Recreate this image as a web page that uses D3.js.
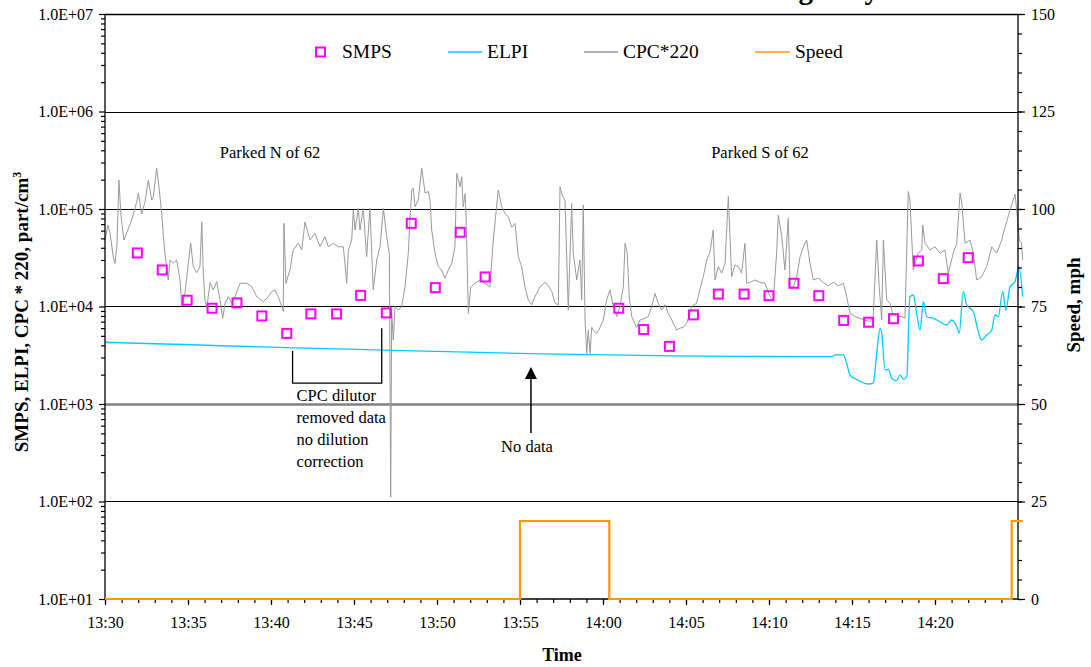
<!DOCTYPE html>
<html>
<head>
<meta charset="utf-8">
<script src="https://cdn.jsdelivr.net/npm/d3@7"></script>
<style>
  body { margin: 0; background: #fff; }
  svg text { font-family: "Liberation Serif", "Times New Roman", serif; fill: #000; }
</style>
</head>
<body>
<div id="chart"></div>
<script>
// time is kept as minutes after 13:30

// SMPS, part/cm3
var smpsMin = [1.95, 3.45, 4.95, 6.45, 7.95, 9.45, 10.95, 12.4, 13.95, 15.4, 16.95, 18.45, 19.9, 21.4, 22.9,
  30.95, 32.45, 34.0, 35.45, 36.95, 38.5, 40.0, 41.5, 43.0, 44.5, 46.0, 47.5, 49.0, 50.5, 52.0];
var smpsVal = [35400, 23700, 11600, 9600, 10900, 8000, 5300, 8400, 8400, 13000, 8600, 71300, 15600, 57700, 20100,
  9600, 5800, 3900, 8200, 13400, 13400, 12900, 17300, 12900, 7200, 6900, 7500, 29300, 19300, 31700];

// ELPI, part/cm3
var elpiMin = [0, 43.78, 43.98, 44.48, 44.68, 44.88, 45.28, 45.78, 46.08, 46.28, 46.49, 46.69, 46.79, 46.99, 47.19,
  47.39, 47.69, 47.89, 48.13, 48.30, 48.49, 48.69, 48.90, 49.10, 49.30, 49.50, 49.90, 50.30, 50.70, 51.0,
  51.31, 51.46, 51.70, 51.91, 52.31, 52.61, 52.81, 53.11, 53.42, 53.61, 53.81, 54.08, 54.27, 54.52, 54.82,
  55.06, 55.28];
var elpiVal = [4300, 3055, 3185, 3185, 2614, 1982, 1791, 1630, 1603, 1653, 3311, 5973, 5306, 2234, 2270,
  1836, 1734, 1982, 1791, 1905, 12590, 13120, 8510, 5740, 11190, 7850, 7560, 6980, 6460, 7270,
  6210, 5310, 14190, 10350, 8850, 5520, 4530, 5100, 5740, 8180, 7860, 14190, 9200, 15960, 17960,
  25570, 12590];

// CPC * 220, part/cm3
var cpcMin = [0, 0.18, 0.30, 0.50, 0.60, 0.72, 0.84, 0.96, 1.14, 1.31, 1.61, 1.91, 2.01, 2.21, 2.41,
  2.61, 2.81, 2.91, 3.11, 3.27, 3.42, 3.51, 3.61, 3.81, 3.92, 4.11, 4.32, 4.52, 4.62, 4.82,
  5.02, 5.16, 5.32, 5.52, 5.72, 5.83, 5.92, 6.02, 6.13, 6.33, 6.52, 6.73, 6.93, 7.09, 7.23,
  7.43, 7.63, 7.83, 8.13, 8.54, 8.84, 9.14, 9.54, 9.84, 10.04, 10.24, 10.44, 10.64, 10.74, 10.78,
  10.90, 11.14, 11.34, 11.64, 11.85, 12.05, 12.35, 12.65, 12.95, 13.25, 13.45, 13.75, 14.05, 14.36, 14.56,
  14.66, 14.86, 14.96, 15.06, 15.26, 15.36, 15.56, 15.76, 15.96, 16.16, 16.37, 16.57, 16.77, 16.97, 17.13,
  17.21, 17.27, 17.37, 17.47, 17.67, 17.87, 18.07, 18.27, 18.37, 18.48, 18.57, 18.67, 18.87, 19.08, 19.28,
  19.48, 19.58, 19.68, 19.88, 20.08, 20.28, 20.48, 20.68, 20.89, 21.08, 21.19, 21.39, 21.49, 21.58, 21.69,
  21.75, 21.89, 22.03, 22.29, 22.59, 22.89, 23.19, 23.39, 23.69, 23.90, 24.10, 24.30, 24.50, 24.70, 24.90,
  25.10, 25.30, 25.50, 25.70, 25.90, 26.20, 26.51, 26.70, 26.91, 27.11, 27.31, 27.41, 27.57, 27.71, 27.91,
  28.11, 28.21, 28.42, 28.61, 28.72, 28.81, 28.92, 29.02, 29.11, 29.22, 29.32, 29.42, 29.62, 29.82, 30.02,
  30.22, 30.42, 30.62, 30.83, 31.02, 31.22, 31.33, 31.46, 31.58, 31.73, 31.83, 32.03, 32.23, 32.53, 32.73,
  32.93, 33.13, 33.33, 33.54, 33.73, 33.93, 34.14, 34.44, 34.64, 34.84, 35.04, 35.34, 35.64, 35.84, 36.04,
  36.25, 36.45, 36.64, 36.75, 36.95, 37.15, 37.35, 37.55, 37.75, 37.95, 38.15, 38.35, 38.55, 38.66, 38.86,
  39.16, 39.46, 39.76, 40.06, 40.26, 40.46, 40.56, 40.77, 40.96, 41.16, 41.27, 41.46, 41.67, 41.87, 42.07,
  42.27, 42.47, 42.67, 42.97, 43.27, 43.57, 43.87, 44.17, 44.48, 44.68, 44.88, 45.18, 45.48, 45.78, 46.08,
  46.28, 46.49, 46.64, 46.79, 46.89, 47.09, 47.29, 47.45, 47.69, 47.99, 48.19, 48.39, 48.49, 48.69, 48.99,
  49.20, 49.26, 49.40, 49.70, 50.0, 50.30, 50.60, 50.80, 51.10, 51.31, 51.51, 51.61, 51.81, 52.11, 52.31,
  52.51, 52.81, 53.11, 53.42, 53.72, 54.02, 54.22, 54.52, 54.82, 54.92, 55.08, 55.22, 55.28];
var cpcVal = [48000, 68500, 57000, 32000, 27700, 42700, 198000, 86700, 48100, 57000, 77100, 118600, 146000, 89000, 118600,
  198000, 123700, 133000, 262000, 156600, 89000, 54000, 35000, 18700, 30000, 27900, 30000, 18700, 10000, 13800,
  27900, 44800, 25600, 22200, 25600, 74100, 22200, 11700, 9700, 17600, 14800, 18000, 11700, 7560, 10800,
  12600, 10800, 12600, 17300, 17300, 16000, 12600, 11200, 12600, 14200, 14800, 12600, 10000, 8900, 71300,
  17300, 23700, 38000, 44500, 38000, 73500, 48100, 56400, 41000, 52000, 41000, 44500, 41000, 41000, 17300,
  38000, 48100, 97600, 60900, 101700, 60900, 101700, 32300, 102400, 14800, 30000, 41000, 101700, 52000, 35000,
  111, 8600, 4530, 10000, 9200, 10000, 15800, 35000, 77100, 156600, 164000, 105500, 123700, 263000, 146000,
  151000, 123700, 60900, 35000, 25600, 23700, 19500, 23700, 27700, 41000, 232000, 169000, 214000, 105500, 144000,
  83000, 8500, 15800, 17300, 18700, 17300, 15800, 48100, 156600, 105500, 90000, 83000, 65000, 71300, 32300,
  25600, 15800, 11700, 10400, 12600, 15800, 17700, 16300, 14300, 10800, 10400, 169000, 135000, 123700, 9200,
  114000, 35000, 18700, 30000, 11700, 110000, 7270, 3300, 5700, 3300, 6100, 5700, 5300, 6100, 7270,
  11700, 14800, 10000, 7900, 10000, 15800, 44500, 35200, 12600, 7900, 7270, 6100, 7270, 7560, 7900,
  10000, 13600, 10800, 9200, 10400, 8500, 7270, 5740, 6000, 6100, 6700, 10000, 10800, 15000, 20200,
  30000, 36500, 60900, 18700, 25600, 22000, 27700, 134000, 20200, 26700, 25600, 22000, 44500, 17300, 17700,
  18700, 17700, 17300, 12600, 11700, 35200, 86700, 52000, 23700, 80000, 15800, 15800, 20200, 32300, 41000,
  48100, 27700, 18700, 19500, 17700, 16300, 17700, 16300, 17300, 12600, 8500, 7900, 7560, 7270, 7000,
  7900, 48100, 15800, 7270, 48100, 11700, 10800, 8500, 7900, 7900, 7560, 151000, 123700, 23700, 35200,
  38000, 68500, 44500, 38000, 41000, 35200, 38000, 22000, 35200, 44500, 146000, 116000, 44500, 48100, 35200,
  18700, 20200, 25600, 41000, 35200, 48100, 65000, 97600, 142000, 97600, 48100, 44500, 30000];

// Speed, mph (step changes)
var speedMin = [0, 25.0, 30.38, 54.62, 55.3];
var speedVal = [0, 20, 0, 20, 20];

var decades = [1e1, 1e2, 1e3, 1e4, 1e5, 1e6, 1e7];
var speedTicks = [0, 25, 50, 75, 100, 125, 150];

(function() {
  var W = 1091, H = 667;
  var pLeft = 105, pRight = 1018, pTop = 14, pBottom = 599;

  var base = new Date(2000, 0, 1, 13, 30);
  var t = function(m) { return new Date(base.getTime() + m * 60000); };

  var x = d3.scaleTime().domain([t(0), t(55)]).range([pLeft, pRight]);
  var y = d3.scaleLog().domain([1e1, 1e7]).range([pBottom, pTop]);
  var ys = d3.scaleLinear().domain([0, 150]).range([pBottom, pTop]);

  var svg = d3.select("#chart").append("svg")
    .attr("width", W).attr("height", H);

  // cut-off title at the very top (only the descenders show)
  svg.append("text").attr("x", 879).attr("y", -1)
    .attr("text-anchor", "end").style("font-size", "29px").style("font-weight", "bold")
    .text("Highway");

  // horizontal grid
  svg.append("g").selectAll("line").data(decades.slice(1))
    .enter().append("line")
    .attr("x1", pLeft).attr("x2", pRight)
    .attr("y1", function(d) { return Math.round(y(d)) + 0.5; })
    .attr("y2", function(d) { return Math.round(y(d)) + 0.5; })
    .attr("stroke", function(d) { return d === 1e3 ? "#808080" : "#000"; })
    .attr("stroke-width", function(d) { return d === 1e3 ? 2.5 : (d === 1e7 ? 1.6 : 1); });

  // CPC
  var cpcData = cpcMin.map(function(m, i) { return { t: t(m), v: cpcVal[i] }; });
  svg.append("path").datum(cpcData)
    .attr("fill", "none").attr("stroke", "#999999").attr("stroke-width", 1)
    .attr("d", d3.line().x(function(d) { return x(d.t); }).y(function(d) { return y(d.v); }));

  // ELPI
  var elpiData = elpiMin.map(function(m, i) { return { t: t(m), v: elpiVal[i] }; });
  svg.append("path").datum(elpiData)
    .attr("fill", "none").attr("stroke", "#00CCFF").attr("stroke-width", 1.3)
    .attr("d", d3.line().curve(d3.curveMonotoneX).x(function(d) { return x(d.t); }).y(function(d) { return y(d.v); }));

  // SMPS squares
  svg.append("g").selectAll("rect").data(smpsMin)
    .enter().append("rect")
    .attr("x", function(d) { return x(t(d)) - 4.5; })
    .attr("y", function(d, i) { return y(smpsVal[i]) - 4.5; })
    .attr("width", 9).attr("height", 9)
    .attr("fill", "none").attr("stroke", "#FF00FF").attr("stroke-width", 2);

  // axes
  var axisLine = function(x1, y1, x2, y2, w) {
    svg.append("line").attr("x1", x1).attr("y1", y1).attr("x2", x2).attr("y2", y2)
      .attr("stroke", "#000").attr("stroke-width", w || 1.3);
  };

  var majorTimes = d3.range(0, 51, 5).map(t);
  var minorTimes = d3.range(0, 55, 1).map(t);

  var gxMinor = svg.append("g").attr("transform", "translate(0," + pBottom + ")")
    .call(d3.axisBottom(x).tickValues(minorTimes).tickSize(4).tickFormat(""));
  var gx = svg.append("g").attr("transform", "translate(0," + pBottom + ")")
    .call(d3.axisBottom(x).tickValues(majorTimes).tickSize(6).tickPadding(12)
      .tickFormat(d3.timeFormat("%H:%M")));

  var logMinor = [];
  decades.slice(0, -1).forEach(function(d) {
    for (var k = 2; k <= 9; k++) logMinor.push(d * k);
  });
  var gyMinor = svg.append("g").attr("transform", "translate(" + pLeft + ",0)")
    .call(d3.axisLeft(y).tickValues(logMinor).tickSize(4).tickFormat(""));
  var gy = svg.append("g").attr("transform", "translate(" + pLeft + ",0)")
    .call(d3.axisLeft(y).tickValues(decades).tickSize(6).tickPadding(6)
      .tickFormat(function(d) {
        var e = Math.round(Math.log10(d));
        return "1.0E+" + (e < 10 ? "0" : "") + e;
      }));

  var gsMinor = svg.append("g").attr("transform", "translate(" + pRight + ",0)")
    .call(d3.axisRight(ys).tickValues(d3.range(0, 151, 5)).tickSize(4).tickFormat(""));
  var gs = svg.append("g").attr("transform", "translate(" + pRight + ",0)")
    .call(d3.axisRight(ys).tickValues(speedTicks).tickSize(7).tickPadding(6));

  [gxMinor, gx, gyMinor, gy, gsMinor, gs].forEach(function(g) {
    g.select(".domain").remove();
    g.selectAll(".tick line").attr("stroke", "#000").attr("stroke-width", 1.2);
    g.selectAll("text").style("font-size", "16px").style("font-family", "Liberation Serif");
  });

  axisLine(pLeft, pTop, pLeft, pBottom);
  axisLine(pRight, pTop, pRight, pBottom);
  axisLine(pLeft, pBottom, pRight, pBottom);

  // Speed
  var speedData = speedMin.map(function(m, i) { return { t: t(m), v: speedVal[i] }; });
  svg.append("path").datum(speedData)
    .attr("fill", "none").attr("stroke", "#FF9900").attr("stroke-width", 2.2)
    .attr("d", d3.line().curve(d3.curveStepAfter).x(function(d) { return x(d.t); }).y(function(d) { return ys(d.v); }));

  // axis titles
  svg.append("text").attr("transform", "translate(28,312) rotate(-90)")
    .attr("text-anchor", "middle").style("font-size", "19px").style("font-weight", "bold")
    .text("SMPS, ELPI, CPC * 220, part/cm")
    .append("tspan").attr("dy", "-0.6em").style("font-size", "12px").text("3");

  svg.append("text").attr("transform", "translate(1080,305) rotate(-90)")
    .attr("text-anchor", "middle").style("font-size", "19px").style("font-weight", "bold")
    .text("Speed, mph");

  svg.append("text").attr("x", 562).attr("y", 661)
    .attr("text-anchor", "middle").style("font-size", "18px").style("font-weight", "bold")
    .text("Time");

  // legend
  var lg = svg.append("g").style("font-size", "19.5px");
  lg.append("rect").attr("x", 316).attr("y", 47.5).attr("width", 9).attr("height", 9)
    .attr("fill", "none").attr("stroke", "#FF00FF").attr("stroke-width", 2);
  lg.append("text").attr("x", 342).attr("y", 58).text("SMPS");
  lg.append("line").attr("x1", 448).attr("x2", 482).attr("y1", 52).attr("y2", 52)
    .attr("stroke", "#00CCFF").attr("stroke-width", 1.3);
  lg.append("text").attr("x", 487).attr("y", 58).text("ELPI");
  lg.append("line").attr("x1", 584).attr("x2", 618).attr("y1", 52).attr("y2", 52)
    .attr("stroke", "#999999").attr("stroke-width", 1.3);
  lg.append("text").attr("x", 623).attr("y", 58).text("CPC*220");
  lg.append("line").attr("x1", 755).attr("x2", 790).attr("y1", 52).attr("y2", 52)
    .attr("stroke", "#FF9900").attr("stroke-width", 1.5);
  lg.append("text").attr("x", 795).attr("y", 58).text("Speed");

  // annotations
  var note = svg.append("g").style("font-size", "16.5px");
  note.append("text").attr("x", 270).attr("y", 158).attr("text-anchor", "middle").text("Parked N of 62");
  note.append("text").attr("x", 760).attr("y", 158).attr("text-anchor", "middle").text("Parked S of 62");

  // bracket for removed CPC data
  var bx1 = x(t(11.3)), bx2 = x(t(16.67));
  note.append("path")
    .attr("d", "M" + bx1 + "," + y(3500) + "V" + y(1640) + "H" + bx2 + "V" + y(6000))
    .attr("fill", "none").attr("stroke", "#000").attr("stroke-width", 1.3);
  ["CPC dilutor", "removed data", "no dilution", "correction"].forEach(function(s, i) {
    note.append("text").attr("x", bx1 + 4).attr("y", 401 + i * 22).text(s);
  });

  // no data arrow
  var ax = x(t(25.66));
  note.append("line").attr("x1", ax).attr("x2", ax).attr("y1", y(504)).attr("y2", y(1900))
    .attr("stroke", "#000").attr("stroke-width", 1.5);
  note.append("path")
    .attr("d", "M" + ax + "," + y(2400) + "L" + (ax - 6) + "," + (y(2400) + 12) + "L" + (ax + 6) + "," + (y(2400) + 12) + "Z")
    .attr("fill", "#000");
  note.append("text").attr("x", 527).attr("y", 452).attr("text-anchor", "middle").text("No data");
})();
</script>
</body>
</html>
